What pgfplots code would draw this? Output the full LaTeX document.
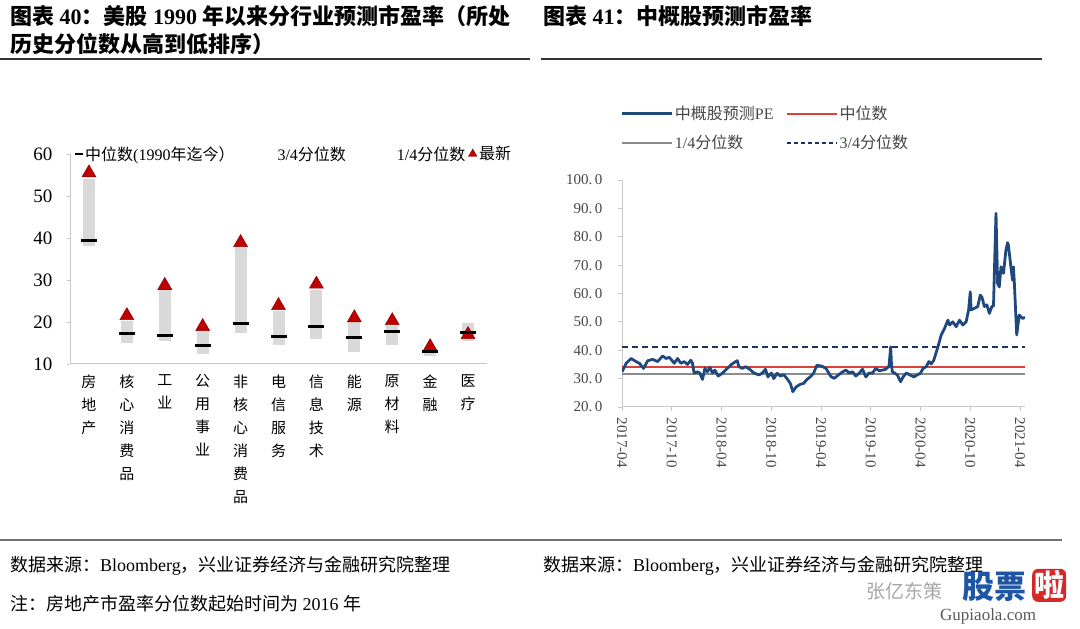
\documentclass[border=0pt]{standalone}
\usepackage{pgfplots}
\pgfplotsset{compat=1.18}
\usepackage{pgfplotstable}
\usepackage{fontspec}
\setmainfont{Liberation Serif}
\newfontfamily\cjk{Noto Sans CJK SC}

\definecolor{barg}{RGB}{217,217,217}
\definecolor{tri}{RGB}{192,0,0}
\definecolor{trid}{RGB}{140,10,10}
\definecolor{axg}{RGB}{200,200,200}
\definecolor{pe}{RGB}{31,73,125}
\definecolor{medr}{RGB}{222,64,60}
\definecolor{qg}{RGB}{140,140,140}
\definecolor{qn}{RGB}{30,50,95}
\definecolor{txt}{RGB}{70,70,70}
\definecolor{gpblue}{RGB}{30,85,165}
\definecolor{gpred}{RGB}{215,40,40}

% 分行业预测市盈率: 1/4分位, 3/4分位, 中位数, 最新
\pgfplotstableread{
x q1 q3 med last
0 38.0 54.0 39.5 55.5
1 15.0 20.3 17.2 21.5
2 15.5 27.5 16.9 28.7
3 12.4 18.0 14.5 18.9
4 17.3 37.9 19.7 38.9
5 14.5 22.7 16.6 23.9
6 15.9 27.5 18.9 29.0
7 12.9 19.9 16.3 21.0
8 14.6 19.1 17.7 20.3
9 12.0 13.9 13.0 14.1
10 15.5 19.7 17.4 17.0
}\sect

% 中概股预测PE, x = 自2017-04起的月数
\pgfplotstableread{
m pe
0 32.4
0.5 35.4
1.1 37.1
1.7 36.0
2.1 35.4
2.6 33.6
3.1 36.3
3.7 36.8
4.3 36.0
4.9 38.0
5.3 37.1
5.7 37.5
6.0 36.5
6.3 35.4
6.7 37.1
7.1 35.4
7.5 36.0
7.9 35.0
8.3 36.5
8.5 35.4
8.7 31.9
9.1 32.4
9.4 31.9
9.7 29.7
10.0 33.6
10.3 32.4
10.6 34.0
10.9 32.0
11.2 33.0
11.6 30.9
12.1 31.9
12.7 33.6
13.2 35.0
13.7 36.0
13.9 36.3
14.1 34.2
14.5 33.6
14.9 34.2
15.4 33.3
15.9 32.0
16.5 31.3
16.9 31.9
17.3 33.3
17.6 30.6
18.0 32.0
18.3 30.0
18.7 31.9
19.1 30.9
19.5 31.4
19.9 30.0
20.3 28.3
20.6 25.4
21.0 27.1
21.5 28.0
21.9 28.3
22.3 29.7
22.7 30.6
23.1 31.9
23.5 34.7
24.1 34.4
24.6 33.6
25.2 30.7
25.6 30.1
26.1 31.3
26.6 32.4
27.0 33.0
27.4 32.0
27.8 32.4
28.2 30.9
28.6 31.9
29.0 33.3
29.4 30.6
29.8 32.0
30.2 31.9
30.6 33.6
31.0 32.8
31.4 33.0
31.8 33.3
32.2 34.4
32.4 41.2
32.5 34.7
32.6 32.4
32.9 31.9
33.2 31.3
33.6 28.9
33.9 30.6
34.3 32.0
34.7 31.3
35.2 30.6
35.6 31.3
36.0 31.9
36.3 33.6
36.7 34.2
37.0 36.0
37.3 35.2
37.6 36.5
38.1 41.2
38.5 45.4
38.9 47.7
39.3 50.6
39.5 48.9
39.9 50.0
40.3 48.3
40.7 50.6
41.1 48.9
41.5 50.0
41.8 54.2
42.0 60.6
42.1 54.2
42.5 54.8
42.9 55.4
43.2 59.4
43.4 58.8
43.7 55.4
44.0 56.0
44.3 53.0
44.6 55.4
44.8 55.6
45.1 88.3
45.3 63.5
45.5 62.3
45.7 69.4
46.0 67.1
46.3 75.3
46.5 77.9
46.6 77.0
46.9 69.4
47.1 64.7
47.2 69.4
47.3 64.7
47.6 45.4
47.9 52.4
48.3 51.2
48.6 51.6
}\cpe

\begin{document}
\begin{tikzpicture}
\path[use as bounding box] (0pt,0pt) rectangle (1080pt,629pt);

% ---- titles
\node[anchor=base west, inner sep=0, font=\fontsize{22}{26}\selectfont\bfseries] at (10pt,604pt)
  {{\cjk 图表} 40{\cjk ：美股} 1990 {\cjk 年以来分行业预测市盈率（所处}};
\node[anchor=base west, inner sep=0, font=\fontsize{22}{26}\selectfont\bfseries] at (10pt,576pt)
  {{\cjk 历史分位数从高到低排序）}};
\node[anchor=base west, inner sep=0, font=\fontsize{22}{26}\selectfont\bfseries] at (543pt,604pt)
  {{\cjk 图表} 41{\cjk ：中概股预测市盈率}};
\draw[black!80, line width=1.2pt] (0pt,570pt) -- (530pt,570pt);
\draw[black!80, line width=1.2pt] (541pt,570pt) -- (1042pt,570pt);

% ---- left chart
\begin{axis}[
  at={(70pt,265pt)}, anchor=south west,
  scale only axis, width=417pt, height=210pt,
  xmin=-0.5, xmax=10.5, ymin=10, ymax=60,
  axis x line*=bottom, axis y line*=left,
  axis line style={axg, line width=1pt, -},
  xtick={0,...,10},
  xticklabels={{房\\地\\产},{核\\心\\消\\费\\品},{工\\业},{公\\用\\事\\业},{非\\核\\心\\消\\费\\品},{电\\信\\服\\务},{信\\息\\技\\术},{能\\源},{原\\材\\料},{金\\融},{医\\疗}},
  xticklabel style={font=\cjk\fontsize{15}{23}\selectfont, align=center, anchor=north, yshift=-4pt},
  major x tick style={draw=none},
  ytick={10,20,...,60},
  y tick style={axg, line width=0.8pt},
  tick align=outside, major tick length=3pt,
  /pgf/number format/assume math mode=true,
  yticklabel style={font=\fontsize{19}{19}\selectfont, xshift=-11pt},
  legend style={at={(axis description cs:0.012,1)}, anchor=west, draw=none, fill=none,
    inner sep=0pt, legend columns=4, font=\fontsize{16}{18}\selectfont,
    /tikz/column 2/.style={column sep=39pt},
    /tikz/column 4/.style={column sep=47pt},
    /tikz/column 6/.style={column sep=1pt}},
  legend cell align=left,
]
\addplot[forget plot, draw=none, mark=none,
  error bars/.cd, y dir=plus, y explicit, error mark=none,
  error bar style={draw=barg, line width=12pt}]
  table[x=x, y=q1, y error expr=\thisrow{q3}-\thisrow{q1}] {\sect};
\addplot[forget plot, only marks, mark=triangle*, mark size=8pt,
  mark options={fill=tri, draw=trid, line width=0.6pt}]
  table[x=x, y=last] {\sect};
\addplot[forget plot, only marks, mark=-, mark size=8pt,
  mark options={black, line width=3pt}]
  table[x=x, y=med] {\sect};
\addlegendimage{only marks, mark=-, mark size=4pt, mark options={black, line width=2pt}}
\addlegendimage{empty legend}
\addlegendimage{empty legend}
\addlegendimage{only marks, mark=triangle*, mark size=5pt, mark options={fill=tri, draw=trid}}
\legend{{\cjk 中位数}(1990{\cjk 年迄今）}, 3/4{\cjk 分位数}, 1/4{\cjk 分位数}, {\cjk 最新}}
\end{axis}

% ---- right chart
\begin{axis}[
  at={(622pt,222pt)}, anchor=south west,
  scale only axis, width=403pt, height=227pt,
  xmin=0, xmax=48.6, ymin=20, ymax=100,
  axis x line*=bottom, axis y line*=left,
  axis line style={axg, line width=1pt, -},
  xtick={0,6,...,48},
  xticklabels={2017-04,2017-10,2018-04,2018-10,2019-04,2019-10,2020-04,2020-10,2021-04},
  xticklabel style={rotate=-90, anchor=west, font=\fontsize{15}{15}\selectfont, text=txt, xshift=3pt},
  ytick={20,30,...,100},
  yticklabels={20.\,0,30.\,0,40.\,0,50.\,0,60.\,0,70.\,0,80.\,0,90.\,0,100.\,0},
  yticklabel style={font=\fontsize{15}{15}\selectfont, text=txt, xshift=-12pt},
  tick align=outside, major tick length=4pt,
  tick style={axg, line width=0.8pt},
  legend image code/.code={\draw[#1] (0pt,0pt) -- (50pt,0pt);},
  legend style={at={(axis description cs:-0.005,1.335)}, anchor=north west, draw=none, fill=none,
    inner sep=0pt, legend columns=2, font=\fontsize{16}{18}\selectfont, text=txt,
    row sep=10pt, /tikz/column 2/.style={column sep=10pt}},
  legend cell align=left,
]
\addplot[forget plot, qg, line width=2pt] coordinates {(0,31.6) (48.6,31.6)};
\addplot[forget plot, medr, line width=2pt] coordinates {(0,34.2) (48.6,34.2)};
\addplot[forget plot, qn, line width=2pt, dash pattern=on 6pt off 4pt] coordinates {(0,41.2) (48.6,41.2)};
\addplot[forget plot, pe, line width=2.8pt, line join=round] table[x=m, y=pe] {\cpe};
\addlegendimage{pe, line width=2.8pt}
\addlegendimage{medr, line width=2pt}
\addlegendimage{qg, line width=2pt}
\addlegendimage{qn, line width=2pt, dash pattern=on 4pt off 3pt}
\legend{{\cjk 中概股预测}PE, {\cjk 中位数}, 1/4{\cjk 分位数}, 3/4{\cjk 分位数}}
\end{axis}

% ---- sources
\draw[black!55, line width=1.5pt] (0pt,89pt) -- (1062pt,89pt);
\node[anchor=base west, inner sep=0, font=\fontsize{18}{20}\selectfont] at (10pt,57pt)
  {{\cjk 数据来源：}Bloomberg{\cjk ，兴业证券经济与金融研究院整理}};
\node[anchor=base west, inner sep=0, font=\fontsize{18}{20}\selectfont] at (543pt,57pt)
  {{\cjk 数据来源：}Bloomberg{\cjk ，兴业证券经济与金融研究院整理}};
\node[anchor=base west, inner sep=0, font=\fontsize{18}{20}\selectfont] at (10pt,18pt)
  {{\cjk 注：房地产市盈率分位数起始时间为} 2016 {\cjk 年}};

% ---- watermark
\node[anchor=base west, inner sep=0, font=\cjk\fontsize{19}{19}\selectfont, text=black!35] at (866pt,30pt) {张亿东策};
\node[anchor=base west, inner sep=0, font=\cjk\fontsize{32}{32}\selectfont\bfseries, text=gpblue] at (962pt,30pt) {股票};
\node[anchor=base west, fill=gpred, rounded corners=6pt, inner sep=2pt, font=\cjk\fontsize{30}{30}\selectfont\bfseries, text=white] at (1032pt,32pt) {啦};
\node[anchor=base west, inner sep=0, font=\fontsize{17}{17}\selectfont, text=black!65] at (940pt,8pt) {Gupiaola.com};
\end{tikzpicture}
\end{document}
